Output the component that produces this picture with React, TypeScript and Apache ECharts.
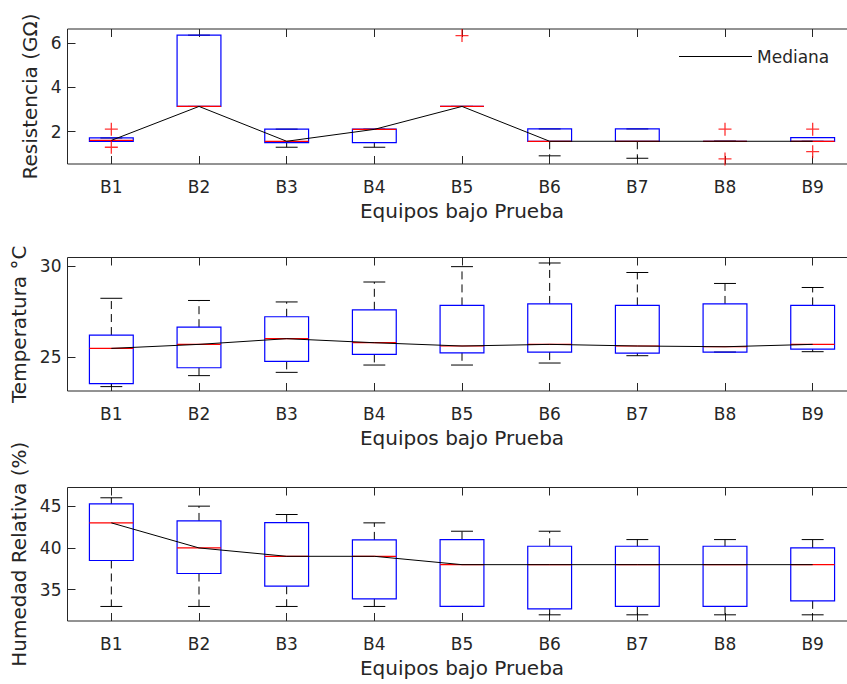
import React, { useEffect, useRef } from "react";
import * as echarts from "echarts";

const categories = ["B1", "B2", "B3", "B4", "B5", "B6", "B7", "B8", "B9"];

// Resistencia (GΩ)
const resLow = [1.56, 3.14, 1.29, 1.29, 3.14, 0.9, 0.79, 1.56, 1.56];
const resQ1 = [1.56, 3.14, 1.5, 1.5, 3.14, 1.56, 1.56, 1.56, 1.56];
const resMedian = [1.6, 3.14, 1.56, 2.1, 3.14, 1.56, 1.56, 1.56, 1.56];
const resQ3 = [1.71, 6.37, 2.11, 2.11, 3.14, 2.12, 2.12, 1.56, 1.73];
const resHigh = [1.71, 6.37, 2.11, 2.11, 3.14, 2.12, 2.12, 1.56, 1.73];
const resOutliers = [
  [0, 2.11],
  [0, 1.29],
  [4, 6.35],
  [7, 2.11],
  [7, 0.76],
  [8, 2.11],
  [8, 1.09],
];

// Temperatura °C
const tempLow = [23.4, 24.0, 24.18, 24.58, 24.58, 24.69, 25.09, 25.29, 25.31];
const tempQ1 = [23.56, 24.43, 24.78, 25.16, 25.25, 25.29, 25.23, 25.29, 25.45];
const tempMedian = [25.49, 25.71, 26.02, 25.8, 25.62, 25.71, 25.62, 25.58, 25.71];
const tempQ3 = [26.22, 26.65, 27.22, 27.6, 27.84, 27.92, 27.84, 27.92, 27.84];
const tempHigh = [28.23, 28.11, 28.03, 29.12, 29.96, 30.16, 29.64, 29.04, 28.82];

// Humedad Relativa (%)
const humLow = [33, 33, 33, 33, 33, 32, 32, 32, 32];
const humQ1 = [38.5, 36.94, 35.42, 33.9, 33, 32.7, 33, 33, 33.67];
const humMedian = [43, 40, 39, 39, 38, 38, 38, 38, 38];
const humQ3 = [45.26, 43.23, 43.03, 40.96, 41, 40.2, 40.2, 40.2, 40];
const humHigh = [46, 45, 44, 43, 42, 42, 41, 41, 41];

const yNames = ["Resistencia (GΩ)", "Temperatura °C", "Humedad Relativa (%)"];
const yMins = [0.53, 23.16, 31.26];
const yMaxs = [6.65, 30.46, 47.23];
const yTicks = [
  [2, 4, 6],
  [25, 30],
  [35, 40, 45],
];
const xName = "Equipos bajo Prueba";

const TXT = "#262626";
const FONT = "DejaVu Sans";

function boxData(lo: number[], q1: number[], med: number[], q3: number[], hi: number[]) {
  return categories.map((_, i) => [i, lo[i], q1[i], med[i], q3[i], hi[i]]);
}

function renderBox(params: any, api: any) {
  const idx = api.value(0);
  const lo = api.value(1);
  const q1 = api.value(2);
  const med = api.value(3);
  const q3 = api.value(4);
  const hi = api.value(5);
  const x = api.coord([idx, med])[0];
  const bw = api.size([1, 0])[0] * 0.5;
  const y = (v: number) => api.coord([idx, v])[1];
  const dash = { stroke: "#000", lineWidth: 1, lineDash: [8, 5], fill: "none" };
  const solid = { stroke: "#000", lineWidth: 1, fill: "none" };
  const children: any[] = [];
  if (hi > q3) {
    children.push({ type: "line", shape: { x1: x, y1: y(q3), x2: x, y2: y(hi) }, style: dash });
  }
  if (lo < q1) {
    children.push({ type: "line", shape: { x1: x, y1: y(q1), x2: x, y2: y(lo) }, style: dash });
  }
  children.push({ type: "line", shape: { x1: x - bw / 4, y1: y(hi), x2: x + bw / 4, y2: y(hi) }, style: solid });
  children.push({ type: "line", shape: { x1: x - bw / 4, y1: y(lo), x2: x + bw / 4, y2: y(lo) }, style: solid });
  children.push({
    type: "rect",
    shape: { x: x - bw / 2, y: y(q3), width: bw, height: y(q1) - y(q3) },
    style: { fill: "none", stroke: "#0000ff", lineWidth: 1.2 },
  });
  children.push({
    type: "line",
    shape: { x1: x - bw / 2, y1: y(med), x2: x + bw / 2, y2: y(med) },
    style: { stroke: "#ff0000", lineWidth: 1.2 },
  });
  return { type: "group", children };
}

const PLUS = "path://M4.5,0H5.5V4.5H10V5.5H5.5V10H4.5V5.5H0V4.5H4.5Z";

export default function App() {
  const ref = useRef<HTMLDivElement>(null);
  useEffect(() => {
    if (!ref.current) return;
    const chart = echarts.init(ref.current, null, { renderer: "svg" });
    const tops = [29, 257.5, 487.5];
    const heights = [135, 133.5, 133.5];
    const yNameGaps = [24, 39, 39];
    const grids = tops.map((t, i) => ({
      left: 67.5,
      top: t,
      width: 789,
      height: heights[i],
      show: true,
      borderColor: TXT,
      borderWidth: 1,
      backgroundColor: "transparent",
    }));
    const xAxes: any[] = [];
    tops.forEach((_, i) => {
      xAxes.push({
        type: "category",
        gridIndex: i,
        data: categories,
        position: "bottom",
        axisLine: { show: false },
        axisTick: { show: true, inside: true, length: 8, alignWithLabel: true, lineStyle: { color: TXT } },
        axisLabel: { color: TXT, fontSize: 17, fontFamily: FONT, margin: 14 },
        splitLine: { show: false },
        name: xName,
        nameLocation: "middle",
        nameGap: 37,
        nameTextStyle: { color: TXT, fontSize: 20, fontFamily: FONT },
      });
      xAxes.push({
        type: "category",
        gridIndex: i,
        data: categories,
        position: "top",
        axisLine: { show: false },
        axisTick: { show: true, inside: true, length: 8, alignWithLabel: true, lineStyle: { color: TXT } },
        axisLabel: { show: false },
        splitLine: { show: false },
      });
    });
    const yAxes = tops.map((_, i) => ({
      type: "value",
      gridIndex: i,
      min: yMins[i],
      max: yMaxs[i],
      axisLine: { show: false },
      axisTick: { show: true, inside: true, length: 8, customValues: yTicks[i], lineStyle: { color: TXT } },
      axisLabel: { color: TXT, fontSize: 17, fontFamily: FONT, margin: 6, customValues: yTicks[i] },
      splitLine: { show: false },
      name: yNames[i],
      nameLocation: "middle",
      nameGap: yNameGaps[i],
      nameTextStyle: { color: TXT, fontSize: 20, fontFamily: FONT },
    }));

    const boxes = [
      boxData(resLow, resQ1, resMedian, resQ3, resHigh),
      boxData(tempLow, tempQ1, tempMedian, tempQ3, tempHigh),
      boxData(humLow, humQ1, humMedian, humQ3, humHigh),
    ];
    const medians = [resMedian, tempMedian, humMedian];
    const series: any[] = [];
    tops.forEach((_, i) => {
      series.push({
        type: "custom",
        xAxisIndex: 2 * i,
        yAxisIndex: i,
        renderItem: renderBox,
        encode: { x: 0, y: [1, 2, 3, 4, 5] },
        data: boxes[i],
        silent: true,
        z: 2,
      });
      series.push({
        type: "line",
        name: "Mediana",
        xAxisIndex: 2 * i,
        yAxisIndex: i,
        data: medians[i],
        symbol: "none",
        showSymbol: false,
        lineStyle: { color: "#000", width: 1 },
        itemStyle: { color: "#000" },
        z: 3,
      });
    });
    series.push({
      type: "scatter",
      xAxisIndex: 0,
      yAxisIndex: 0,
      data: resOutliers,
      symbol: PLUS,
      symbolSize: 13,
      itemStyle: { color: "#ff0000" },
      z: 4,
    });

    chart.setOption({
      animation: false,
      backgroundColor: "#fff",
      grid: grids,
      xAxis: xAxes,
      yAxis: yAxes,
      legend: {
        data: [{ name: "Mediana", icon: "rect" }],
        left: 679,
        top: 48,
        itemWidth: 73,
        itemHeight: 1.2,
        padding: 0,
        itemStyle: { color: "#000", borderWidth: 0 },
        lineStyle: { width: 0 },
        textStyle: { color: TXT, fontSize: 17, fontFamily: FONT },
      },
      series,
    });
    return () => chart.dispose();
  }, []);
  return (
    <div
      style={{
        position: "absolute",
        left: 0,
        top: 0,
        width: 847,
        height: 684,
        overflow: "hidden",
        background: "#fff",
      }}
    >
      <div ref={ref} style={{ width: 880, height: 684 }} />
    </div>
  );
}
